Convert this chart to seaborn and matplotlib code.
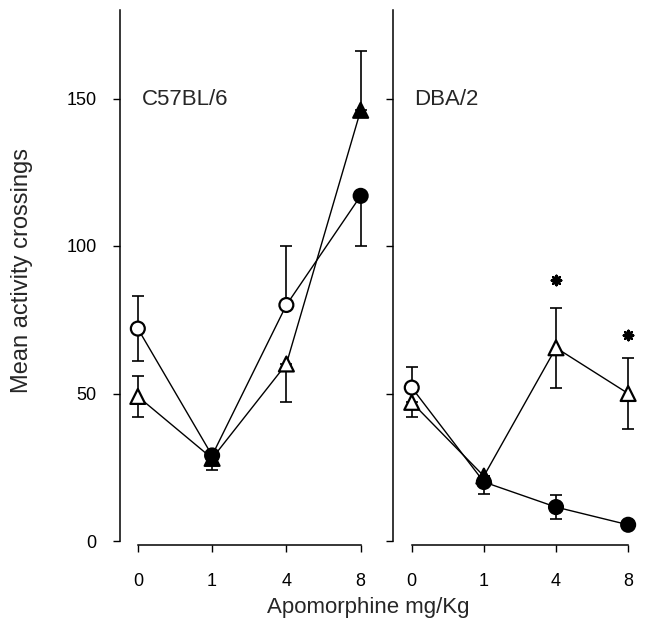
import matplotlib
matplotlib.use('Agg')
import matplotlib.pyplot as plt
import seaborn as sns
import numpy as np

sns.set_style('ticks')
plt.rcParams['font.family'] = ['Liberation Sans', 'DejaVu Sans']

doses = ['0', '1', '4', '8']
y_ticks = [0, 50, 100, 150]

# C57BL/6
c57_circle = [72, 29, 80, 117]
c57_circle_up = [11, 0, 20, 0]
c57_circle_down = [11, 5, 0, 17]
c57_circle_filled = [False, True, False, True]
c57_tri = [49, 28, 60, 146]
c57_tri_up = [7, 0, 0, 20]
c57_tri_down = [7, 0, 13, 0]
c57_tri_filled = [False, True, False, True]

# DBA/2
dba_circle = [52, 20, 11.5, 5.5]
dba_circle_up = [7, 0, 4, 0]
dba_circle_down = [0, 4, 4, 0]
dba_circle_filled = [False, True, True, True]
dba_tri = [47, 22, 65.5, 50]
dba_tri_up = [0, 0, 13.5, 12]
dba_tri_down = [5, 0, 13.5, 12]
dba_tri_filled = [False, True, False, False]

# significance marks (DBA/2)
star_dose_idx = [2, 3]
star_y = [88.5, 70]

fig = plt.figure(figsize=(6.47, 6.21), dpi=100)
ax1 = fig.add_axes([120/647, 80/621, 257/647, 531/621])
ax2 = fig.add_axes([393/647, 80/621, 251/647, 531/621])

pos = np.arange(len(doses))


def draw_series(ax, means, up, down, filled, marker):
    sns.lineplot(x=pos, y=means, ax=ax, color='black', lw=1.0, zorder=2)
    ax.errorbar(pos, means, yerr=[down, up], fmt='none', ecolor='black',
                elinewidth=1.2, capsize=4, capthick=1.2, zorder=3)
    face = ['black' if f else 'white' for f in filled]
    ax.scatter(pos, means, s=100 if marker == 'o' else 115, marker=marker,
               facecolors=face, edgecolors='black', linewidths=1.6, zorder=4)


draw_series(ax1, c57_circle, c57_circle_up, c57_circle_down, c57_circle_filled, 'o')
draw_series(ax1, c57_tri, c57_tri_up, c57_tri_down, c57_tri_filled, '^')
draw_series(ax2, dba_circle, dba_circle_up, dba_circle_down, dba_circle_filled, 'o')
draw_series(ax2, dba_tri, dba_tri_up, dba_tri_down, dba_tri_filled, '^')

ax2.scatter(pos[star_dose_idx], star_y, marker=(8, 2, 0), s=45, color='black',
            linewidths=1.8, zorder=4)

for ax, lab in [(ax1, 'C57BL/6'), (ax2, 'DBA/2')]:
    ax.set_ylim(0, 180)
    ax.set_yticks(y_ticks)
    ax.set_xticks(pos)
    ax.set_xticklabels(doses)
    ax.tick_params(axis='both', direction='out', length=5, width=1, colors='black',
                   labelsize=13)
    ax.tick_params(axis='x', pad=15)
    sns.despine(ax=ax)
    ax.spines['bottom'].set_position(('outward', 3))
    ax.spines['bottom'].set_bounds(0, 3)
    ax.spines['left'].set_linewidth(1.1)
    ax.spines['bottom'].set_linewidth(1.1)
    ax.spines['left'].set_color('black')
    ax.spines['bottom'].set_color('black')
    ax.text(0.085, 0.832, lab, transform=ax.transAxes, fontsize=16,
            ha='left', va='center')
    ax.set_facecolor('white')

ax1.set_xlim(-0.24, 3.22)
ax2.set_xlim(-0.26, 3.22)
ax2.set_yticklabels([])
ax1.tick_params(axis='y', pad=12)

fig.text(0.034, 0.565, 'Mean activity crossings', rotation=90, fontsize=17,
         ha='center', va='center')
fig.text(0.569, 0.022, 'Apomorphine mg/Kg', fontsize=16, ha='center', va='center')

fig.savefig('out.png', dpi=100, facecolor='white')
